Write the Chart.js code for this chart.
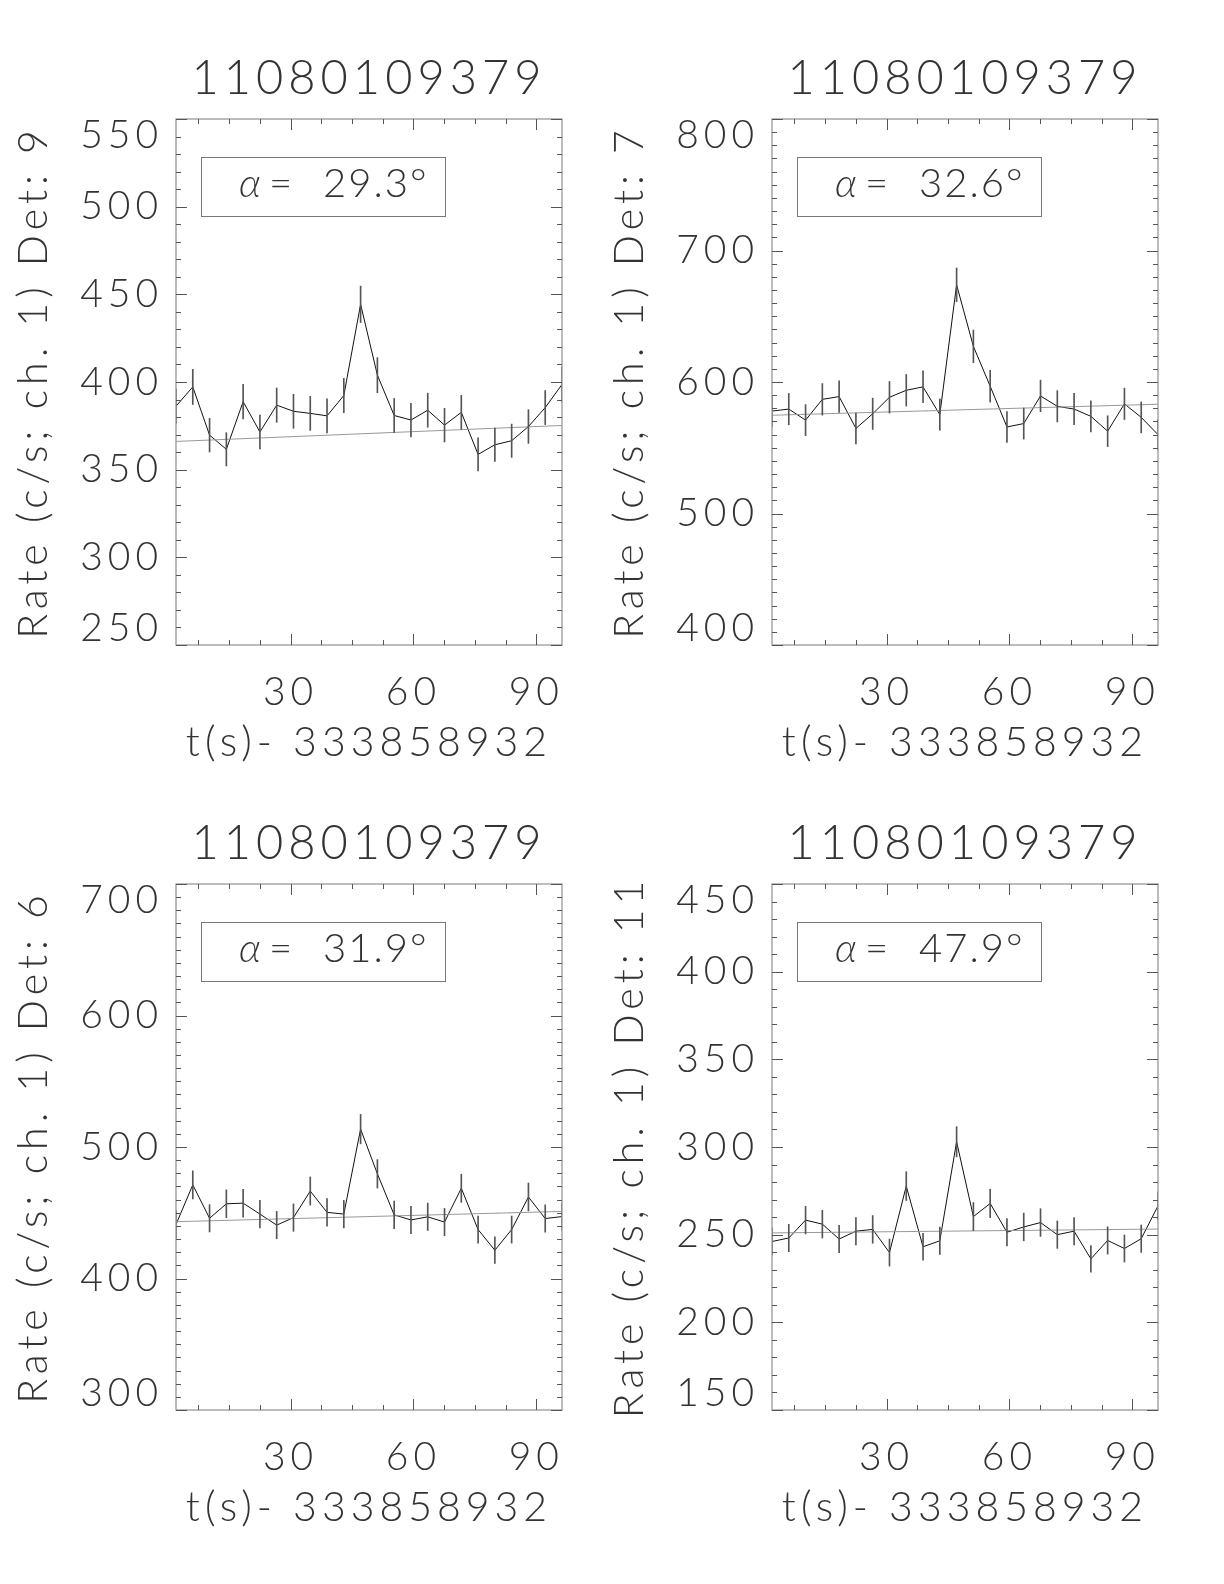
<!DOCTYPE html>
<html>
<head>
<meta charset="utf-8">
<script src="https://cdn.jsdelivr.net/npm/chart.js@4.4.1/dist/chart.umd.min.js"></script>
<style>
  body { margin: 0; background: #fff; width: 1224px; height: 1584px; position: relative; overflow: hidden; }
  canvas { position: absolute; }
</style>
</head>
<body>
<canvas id="p0" width="612" height="792" style="left:0px;top:0px"></canvas>
<canvas id="p1" width="612" height="792" style="left:596px;top:0px"></canvas>
<canvas id="p2" width="612" height="792" style="left:0px;top:765px"></canvas>
<canvas id="p3" width="612" height="792" style="left:596px;top:765px"></canvas>
<script>
// Datos
const triggerId = '11080109379';
const tOffset = '333858932';
const times = [2.048, 6.144, 10.24, 14.336, 18.432, 22.528, 26.624, 30.72, 34.816, 38.912, 43.008, 47.104,
               51.2, 55.296, 59.392, 63.488, 67.584, 71.68, 75.776, 79.872, 83.968, 88.064, 92.16, 96.256];
const xTickLabels = [30, 60, 90];

const dets = [9, 7, 6, 11];
const alphas = [29.3, 32.6, 31.9, 47.9];

const rateDet9 = [386.2, 397.2, 369.7, 361.6, 388.8, 371.5, 386.8, 383.3, 382.1, 380.7, 392.3, 444.3,
                  403.9, 380.9, 378.3, 383.9, 375.4, 382.7, 358.7, 364.2, 366.5, 374.6, 385.4, 398.6];
const errDet9  = [9.8, 10.0, 9.6, 9.5, 9.8, 9.6, 9.8, 9.7, 9.7, 9.7, 9.8, 10.4,
                  10.0, 9.7, 9.6, 9.7, 9.6, 9.7, 9.4, 9.5, 9.5, 9.6, 9.7, 9.9];
const bkgDet9  = [366.1, 375.2];

const rateDet7 = [577.9, 579.4, 571.0, 586.8, 588.9, 564.7, 575.8, 588.4, 593.7, 596.3, 575.2, 673.9,
                  627.1, 596.8, 565.8, 568.4, 589.4, 581.5, 579.4, 573.9, 562.6, 583.4, 573.1, 560.0];
const errDet7  = [11.9, 11.9, 11.8, 12.0, 12.0, 11.7, 11.9, 12.0, 12.0, 12.1, 11.9, 12.8,
                  12.4, 12.1, 11.8, 11.8, 12.0, 11.9, 11.9, 11.8, 11.7, 11.9, 11.8, 11.7];
const bkgDet7  = [574.7, 583.1];

const rateDet6 = [441.1, 471.2, 445.8, 456.8, 457.3, 449.0, 440.6, 446.3, 466.5, 450.3, 449.0, 513.6,
                  479.6, 448.4, 444.5, 446.9, 442.9, 468.6, 437.2, 421.5, 437.2, 462.0, 445.6, 447.1];
const errDet6  = [10.4, 10.7, 10.4, 10.6, 10.6, 10.5, 10.4, 10.4, 10.7, 10.5, 10.5, 11.2,
                  10.8, 10.5, 10.4, 10.4, 10.4, 10.7, 10.3, 10.1, 10.3, 10.6, 10.4, 10.4];
const bkgDet6  = [443.2, 451.0];

const rateDet11 = [246.1, 248.1, 258.3, 256.0, 247.5, 252.0, 253.0, 239.8, 277.7, 243.1, 246.5, 303.0,
                   260.3, 267.8, 251.4, 254.4, 256.9, 250.0, 252.0, 236.2, 246.7, 242.1, 247.7, 266.4];
const errDet11  = [7.8, 7.8, 7.9, 7.9, 7.8, 7.8, 7.9, 7.7, 8.2, 7.7, 7.8, 8.6,
                   8.0, 8.1, 7.8, 7.9, 7.9, 7.8, 7.8, 7.6, 7.8, 7.7, 7.8, 8.0];
const bkgDet11  = [251.0, 253.2];

const rates = [rateDet9, rateDet7, rateDet6, rateDet11];
const errs = [errDet9, errDet7, errDet6, errDet11];
const bkgs = [bkgDet9, bkgDet7, bkgDet6, bkgDet11];
const yRanges = [[250, 550, 50], [400, 800, 100], [300, 700, 100], [150, 450, 50]];

const FONT = 'Lato, "DejaVu Sans", sans-serif';
Chart.defaults.font.family = FONT;
Chart.defaults.font.weight = 300;
Chart.defaults.color = '#333';

// marcas hacia dentro, caja y etiqueta alfa
const idlFrame = {
  id: 'idlFrame',
  beforeDraw(chart) { chart.ctx.letterSpacing = '5px'; },
  afterDatasetsDraw(chart, args, opts) {
    const { ctx, chartArea: a, scales: { x, y } } = chart;
    ctx.save();
    ctx.strokeStyle = '#999'; ctx.lineWidth = 1.3;
    ctx.strokeRect(a.left, a.top, a.width, a.height);
    ctx.strokeStyle = '#555'; ctx.lineWidth = 1;
    ctx.beginPath();
    x.ticks.forEach(t => {
      const px = Math.round(x.getPixelForValue(t.value)) + 0.5;
      const len = t.value % opts.xMajor === 0 ? 11 : 5;
      ctx.moveTo(px, a.bottom); ctx.lineTo(px, a.bottom - len);
      ctx.moveTo(px, a.top); ctx.lineTo(px, a.top + len);
    });
    y.ticks.forEach(t => {
      const py = Math.round(y.getPixelForValue(t.value)) + 0.5;
      const len = t.value % opts.yMajor === 0 ? 11 : 5;
      ctx.moveTo(a.left, py); ctx.lineTo(a.left + len, py);
      ctx.moveTo(a.right, py); ctx.lineTo(a.right - len, py);
    });
    ctx.stroke();

    // leyenda
    const bx = a.left + 25, by = a.top + 38;
    ctx.strokeStyle = '#777'; ctx.lineWidth = 1;
    ctx.strokeRect(bx + 0.5, by + 0.5, 244, 59);
    ctx.fillStyle = '#333';
    ctx.letterSpacing = '2px';
    ctx.textBaseline = 'middle';
    ctx.font = 'italic 300 40px ' + FONT;
    ctx.fillText('α', bx + 38, by + 27);
    ctx.font = '300 40px ' + FONT;
    ctx.fillText('=', bx + 68, by + 27);
    ctx.fillText(opts.alpha.toFixed(1) + '°', bx + 122, by + 27);
    ctx.restore();
  }
};

function buildChart(i) {
  const [yMin, yMax, yMajor] = yRanges[i];
  const rate = rates[i], err = errs[i], bkg = bkgs[i];
  const tMin = times[0], tMax = times[times.length - 1];

  new Chart(document.getElementById('p' + i), {
    type: 'line',
    data: {
      datasets: [
        { type: 'bar', data: times.map((t, k) => ({ x: t, y: [rate[k] - err[k], rate[k] + err[k]] })),
          backgroundColor: '#555', borderWidth: 0, barThickness: 1 },
        { data: [{ x: tMin, y: bkg[0] }, { x: tMax, y: bkg[1] }],
          borderColor: '#999', borderWidth: 1, pointRadius: 0 },
        { data: times.map((t, k) => ({ x: t, y: rate[k] })),
          borderColor: '#111', borderWidth: 1, pointRadius: 0, tension: 0 }
      ]
    },
    options: {
      responsive: false, animation: false, devicePixelRatio: 1,
      layout: { padding: { left: 0, right: 50, top: 0, bottom: 25 } },
      plugins: {
        legend: { display: false }, tooltip: { enabled: false },
        title: { display: true, text: triggerId, fullSize: false, color: '#333',
                 font: { size: 47, weight: 300, lineHeight: 1 }, padding: { top: 55, bottom: 17 } },
        idlFrame: { alpha: alphas[i], xMajor: 30, yMajor: yMajor }
      },
      scales: {
        x: {
          type: 'linear', min: tMin, max: tMax, offset: false,
          grid: { display: false, drawTicks: false }, border: { display: false },
          afterBuildTicks: s => {
            const ticks = [];
            for (let v = 7.5; v <= tMax; v += 7.5) ticks.push({ value: v });
            s.ticks = ticks;
          },
          afterFit: s => { s.height = 122; },
          ticks: { autoSkip: false, maxRotation: 0, padding: 24, font: { size: 39 },
                   callback: v => xTickLabels.includes(v) ? String(v) : '' },
          title: { display: true, text: 't(s)- ' + tOffset, font: { size: 41 }, padding: 0 }
        },
        y: {
          min: yMin, max: yMax,
          grid: { display: false, drawTicks: false }, border: { display: false },
          afterBuildTicks: s => {
            const ticks = [];
            for (let v = yMin; v <= yMax; v += 10) ticks.push({ value: v });
            s.ticks = ticks;
          },
          afterFit: s => { s.width = 176; },
          ticks: { autoSkip: false, padding: 13, font: { size: 39, lineHeight: 0.84 },
                   callback: v => {
                     if (v % yMajor !== 0) return '';
                     if (v === yMax) return ['', String(v)];
                     if (v === yMin) return [String(v), ''];
                     return String(v);
                   } },
          title: { display: true, text: 'Rate (c/s; ch. 1) Det: ' + dets[i], font: { size: 41 },
                   padding: { top: 9, bottom: 0 } }
        }
      }
    },
    plugins: [idlFrame]
  });
}

[0, 1, 2, 3].forEach(buildChart);
</script>
</body>
</html>
